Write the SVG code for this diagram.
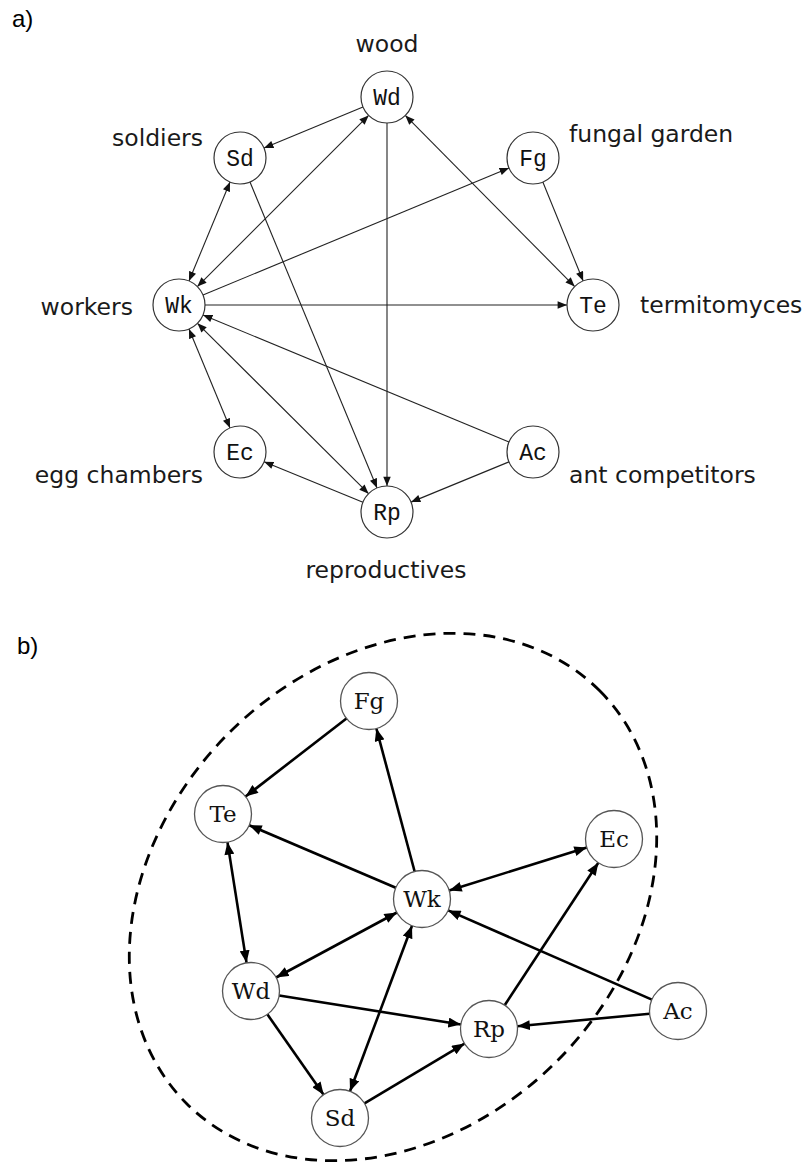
<svg xmlns="http://www.w3.org/2000/svg" width="809" height="1166" viewBox="0 0 809 1166">
<style>
.bg{fill:#fff}
.lab{font-family:"DejaVu Sans",sans-serif;font-size:23.5px;fill:#1a1a1a}
.panel{font-family:"Liberation Sans",Arial,sans-serif;font-size:24px;fill:#000}
.na circle{fill:#fff;stroke:#333;stroke-width:1.2}
.na text{font-family:"Liberation Mono",monospace;font-size:23px;fill:#111;text-anchor:middle}
.nb circle{fill:#fff;stroke:#555;stroke-width:1.3}
.nb text{font-family:"DejaVu Serif",serif;font-size:23px;fill:#111;text-anchor:middle}
.ea line{stroke:#222;stroke-width:1.1;fill:none}
.eb line{stroke:#000;stroke-width:2.6;fill:none}
.hull{fill:none;stroke:#000;stroke-width:2.8;stroke-dasharray:12 8}
</style>
<defs>
<marker id="ha" viewBox="0 0 10 8" refX="10" refY="4" markerWidth="10" markerHeight="7.5" markerUnits="userSpaceOnUse" orient="auto-start-reverse"><path d="M0,0 L10,4 L0,8 z" fill="#111"/></marker>
<marker id="hb" viewBox="0 0 10 8" refX="10" refY="4" markerWidth="13" markerHeight="10" markerUnits="userSpaceOnUse" orient="auto-start-reverse"><path d="M0,0 L10,4 L0,8 z" fill="#000"/></marker>
</defs>
<rect class="bg" x="0" y="0" width="809" height="1166"/>

<text class="panel" x="12" y="27">a)</text>
<text class="panel" x="17" y="654">b)</text>

<g id="labels-a">
<text class="lab" x="387" y="52" text-anchor="middle">wood</text>
<text class="lab" x="203" y="146" text-anchor="end">soldiers</text>
<text class="lab" x="569" y="142">fungal garden</text>
<text class="lab" x="133" y="315" text-anchor="end">workers</text>
<text class="lab" x="640" y="313">termitomyces</text>
<text class="lab" x="203" y="483" text-anchor="end">egg chambers</text>
<text class="lab" x="569" y="483">ant competitors</text>
<text class="lab" x="386" y="578" text-anchor="middle">reproductives</text>
</g>

<g id="connectors-a" class="ea">
<line x1="362.98" y1="106.97" x2="264.02" y2="148.03" marker-end="url(#ha)"/>
<line x1="230.03" y1="182.02" x2="188.97" y2="280.98" marker-start="url(#ha)" marker-end="url(#ha)"/>
<line x1="197.38" y1="286.62" x2="368.62" y2="115.38" marker-start="url(#ha)" marker-end="url(#ha)"/>
<line x1="203.01" y1="295.03" x2="508.99" y2="167.97" marker-end="url(#ha)"/>
<line x1="405.30" y1="115.47" x2="574.70" y2="286.53" marker-start="url(#ha)" marker-end="url(#ha)"/>
<line x1="542.83" y1="182.07" x2="583.17" y2="280.93" marker-end="url(#ha)"/>
<line x1="205" y1="305" x2="567" y2="305" marker-end="url(#ha)"/>
<line x1="387" y1="123" x2="387" y2="486" marker-end="url(#ha)"/>
<line x1="249.97" y1="182.01" x2="377.03" y2="487.99" marker-end="url(#ha)"/>
<line x1="188.97" y1="329.02" x2="230.03" y2="427.98" marker-start="url(#ha)" marker-end="url(#ha)"/>
<line x1="197.43" y1="323.34" x2="368.57" y2="493.66" marker-start="url(#ha)" marker-end="url(#ha)"/>
<line x1="508.99" y1="442.03" x2="203.01" y2="314.97" marker-end="url(#ha)"/>
<line x1="508.95" y1="461.88" x2="411.05" y2="502.12" marker-end="url(#ha)"/>
<line x1="362.93" y1="502.17" x2="264.07" y2="461.83" marker-end="url(#ha)"/>
</g>

<g id="a-Wd" class="na"><circle cx="387" cy="97" r="26"/><text x="387" y="105">Wd</text></g>
<g id="a-Sd" class="na"><circle cx="240" cy="158" r="26"/><text x="240" y="166">Sd</text></g>
<g id="a-Fg" class="na"><circle cx="533" cy="158" r="26"/><text x="533" y="166">Fg</text></g>
<g id="a-Wk" class="na"><circle cx="179" cy="305" r="26"/><text x="179" y="313">Wk</text></g>
<g id="a-Te" class="na"><circle cx="593" cy="305" r="26"/><text x="593" y="313">Te</text></g>
<g id="a-Ec" class="na"><circle cx="240" cy="452" r="26"/><text x="240" y="460">Ec</text></g>
<g id="a-Ac" class="na"><circle cx="533" cy="452" r="26"/><text x="533" y="460">Ac</text></g>
<g id="a-Rp" class="na"><circle cx="387" cy="512" r="26"/><text x="387" y="520">Rp</text></g>

<ellipse id="hull-b" class="hull" cx="393" cy="897" rx="292" ry="232" transform="rotate(-45 393 897)"/>

<g id="connectors-b" class="eb">
<line x1="346.46" y1="718.44" x2="245.54" y2="796.56" marker-end="url(#hb)"/>
<line x1="414.63" y1="871.47" x2="376.37" y2="728.53" marker-end="url(#hb)"/>
<line x1="395.79" y1="887.81" x2="249.21" y2="825.19" marker-end="url(#hb)"/>
<line x1="227.45" y1="842.15" x2="246.55" y2="962.85" marker-start="url(#hb)" marker-end="url(#hb)"/>
<line x1="449.20" y1="890.50" x2="586.80" y2="847.50" marker-start="url(#hb)" marker-end="url(#hb)"/>
<line x1="396.90" y1="912.50" x2="276.10" y2="977.50" marker-start="url(#hb)" marker-end="url(#hb)"/>
<line x1="412.01" y1="925.69" x2="349.99" y2="1091.31" marker-start="url(#hb)" marker-end="url(#hb)"/>
<line x1="651.89" y1="999.58" x2="448.11" y2="910.42" marker-end="url(#hb)"/>
<line x1="279.14" y1="995.49" x2="460.86" y2="1024.51" marker-end="url(#hb)"/>
<line x1="267.36" y1="1014.34" x2="323.64" y2="1094.66" marker-end="url(#hb)"/>
<line x1="364.47" y1="1103.39" x2="464.53" y2="1043.61" marker-end="url(#hb)"/>
<line x1="649.63" y1="1013.70" x2="517.37" y2="1026.30" marker-end="url(#hb)"/>
<line x1="504.66" y1="1005.19" x2="598.34" y2="862.81" marker-end="url(#hb)"/>
</g>

<g id="b-Fg" class="nb"><circle cx="369" cy="701" r="28.5"/><text x="369" y="709">Fg</text></g>
<g id="b-Te" class="nb"><circle cx="223" cy="814" r="28.5"/><text x="223" y="822">Te</text></g>
<g id="b-Ec" class="nb"><circle cx="614" cy="839" r="28.5"/><text x="614" y="847">Ec</text></g>
<g id="b-Wk" class="nb"><circle cx="422" cy="899" r="28.5"/><text x="422" y="907">Wk</text></g>
<g id="b-Wd" class="nb"><circle cx="251" cy="991" r="28.5"/><text x="251" y="999">Wd</text></g>
<g id="b-Rp" class="nb"><circle cx="489" cy="1029" r="28.5"/><text x="489" y="1037">Rp</text></g>
<g id="b-Ac" class="nb"><circle cx="678" cy="1011" r="28.5"/><text x="678" y="1019">Ac</text></g>
<g id="b-Sd" class="nb"><circle cx="340" cy="1118" r="28.5"/><text x="340" y="1126">Sd</text></g>
</svg>
